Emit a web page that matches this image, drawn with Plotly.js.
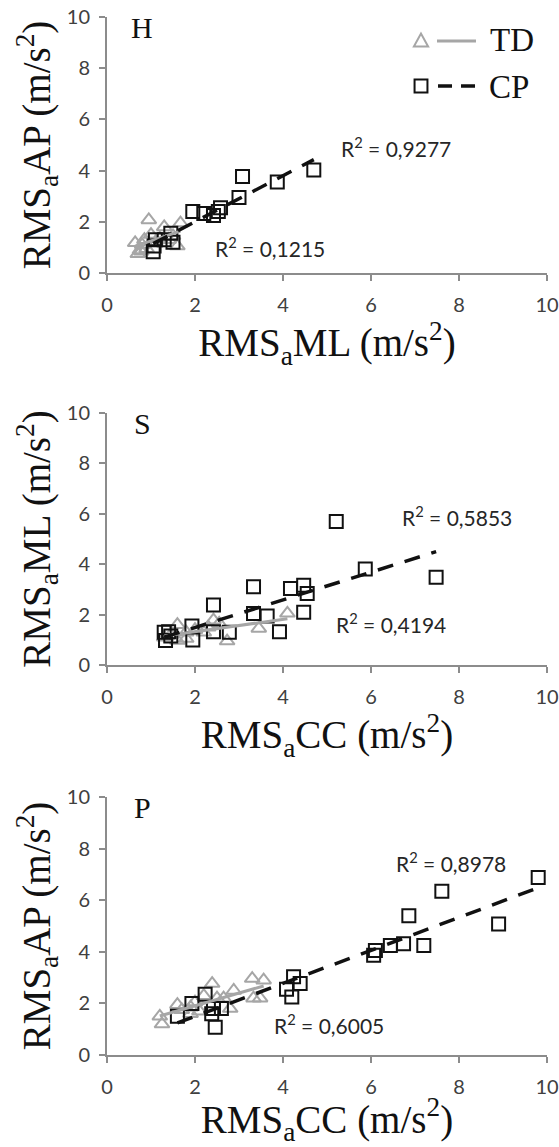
<!DOCTYPE html>
<html>
<head>
<meta charset="utf-8">
<script src="https://cdn.plot.ly/plotly-3.0.1.min.js"></script>
<style>html,body{margin:0;padding:0;background:#fff;}#chart{width:559px;height:1147px;}</style>
</head>
<body>
<div id="chart"></div>
<script>
// ---- Panel H: RMSa ML (x) vs RMSa AP (y)
var H_TD_x = [0.64,0.70,0.75,0.80,0.85,0.90,0.95,1.00,1.10,1.20,1.30,1.40,1.50,1.60,1.67,0.78];
var H_TD_y = [1.18,0.75,0.90,1.10,1.30,0.95,2.07,1.50,1.20,1.35,1.80,1.30,1.45,1.05,1.95,0.85];
var H_CP_x = [1.05,1.07,1.10,1.30,1.45,1.50,1.95,2.20,2.42,2.53,2.58,3.00,3.08,3.87,4.70];
var H_CP_y = [0.83,1.05,1.30,1.30,1.55,1.20,2.40,2.32,2.25,2.40,2.55,2.95,3.77,3.55,4.02];
// ---- Panel S: RMSa CC (x) vs RMSa ML (y)
var S_TD_x = [1.30,1.45,1.60,1.60,1.80,2.00,2.20,2.42,2.55,2.73,3.45,4.10,1.80,2.30];
var S_TD_y = [1.10,1.20,1.60,0.97,1.30,1.40,1.30,1.78,1.65,0.95,1.45,2.05,1.05,1.50];
var S_CP_x = [1.33,1.30,1.45,1.40,1.93,1.95,2.42,2.42,2.78,3.33,3.33,3.64,3.92,4.17,4.47,4.55,4.47,5.21,5.87,7.48];
var S_CP_y = [0.97,1.30,1.15,1.32,1.55,0.99,2.38,1.32,1.30,3.11,2.04,1.95,1.32,3.04,3.17,2.84,2.09,5.69,3.81,3.48];
// ---- Panel P: RMSa CC (x) vs RMSa AP (y)
var P_TD_x = [1.20,1.25,1.60,1.70,1.90,2.00,2.10,2.39,2.50,2.65,2.80,2.88,3.30,3.33,3.48,3.56,1.90,2.20];
var P_TD_y = [1.50,1.20,1.95,1.75,1.85,2.05,1.70,2.77,2.20,2.20,1.80,2.50,2.96,2.20,2.20,2.90,1.60,2.30];
var P_CP_x = [1.60,1.93,2.23,2.38,2.42,2.46,2.60,4.08,4.20,4.24,4.39,6.06,6.10,6.44,6.74,6.86,7.20,7.61,8.90,9.80];
var P_CP_y = [1.50,2.00,2.35,1.60,1.80,1.08,1.80,2.55,2.25,3.03,2.77,3.87,4.05,4.24,4.31,5.40,4.24,6.35,5.08,6.88];
// ---- labels
var panelLetters = ['H','S','P'];
var r2TD = ['R<sup>2</sup> = 0,1215','R<sup>2</sup> = 0,4194','R<sup>2</sup> = 0,6005'];
var r2CP = ['R<sup>2</sup> = 0,9277','R<sup>2</sup> = 0,5853','R<sup>2</sup> = 0,8978'];
var xTitles = ['RMS<sub>a</sub>ML (m/s<sup>2</sup>)','RMS<sub>a</sub>CC (m/s<sup>2</sup>)','RMS<sub>a</sub>CC (m/s<sup>2</sup>)'];
var yTitles = ['RMS<sub>a</sub>AP (m/s<sup>2</sup>)','RMS<sub>a</sub>ML (m/s<sup>2</sup>)','RMS<sub>a</sub>AP (m/s<sup>2</sup>)'];
var tickVals = [0,2,4,6,8,10];
var seriesNames = ['TD','CP'];

function fit(x, y) {
  var n = x.length, sx = 0, sy = 0, sxx = 0, sxy = 0;
  for (var i = 0; i < n; i++) { sx += x[i]; sy += y[i]; sxx += x[i]*x[i]; sxy += x[i]*y[i]; }
  var b = (n*sxy - sx*sy) / (n*sxx - sx*sx);
  var a = (sy - b*sx) / n;
  var xmin = Math.min.apply(null, x), xmax = Math.max.apply(null, x);
  return {x: [xmin, xmax], y: [a + b*xmin, a + b*xmax]};
}

var GRAY = '#a6a6a6';
var panels = [
  {td: [H_TD_x, H_TD_y], cp: [H_CP_x, H_CP_y]},
  {td: [S_TD_x, S_TD_y], cp: [S_CP_x, S_CP_y]},
  {td: [P_TD_x, P_TD_y], cp: [P_CP_x, P_CP_y]}
];
var traces = [];
panels.forEach(function (p, i) {
  var xa = i === 0 ? 'x' : 'x' + (i+1), ya = i === 0 ? 'y' : 'y' + (i+1);
  traces.push({x: p.td[0], y: p.td[1], xaxis: xa, yaxis: ya, type: 'scatter', mode: 'markers', name: seriesNames[0], showlegend: false,
    marker: {symbol: 'triangle-up-open', size: 13, color: GRAY, line: {width: 2, color: GRAY}}});
  traces.push({x: p.cp[0], y: p.cp[1], xaxis: xa, yaxis: ya, type: 'scatter', mode: 'markers', name: seriesNames[1], showlegend: false,
    marker: {symbol: 'square-open', size: 13, color: '#111', line: {width: 2, color: '#111'}}});
  var ft = fit(p.td[0], p.td[1]);
  traces.push({x: ft.x, y: ft.y, xaxis: xa, yaxis: ya, type: 'scatter', mode: 'lines', showlegend: false,
    line: {color: GRAY, width: 3}});
  var fc = fit(p.cp[0], p.cp[1]);
  traces.push({x: fc.x, y: fc.y, xaxis: xa, yaxis: ya, type: 'scatter', mode: 'lines', showlegend: false,
    line: {color: '#111', width: 3.5, dash: '16px,12px'}});
});

var domains = [[0.7534, 1.0], [0.3757, 0.6185], [0.0, 0.2486]];
var tickFont = {family: 'Lato, sans-serif', size: 20, color: '#404040'};
var titleFont = {family: '"Liberation Serif", "Times New Roman", serif', size: 39, color: '#111'};
var layout = {
  width: 559, height: 1147,
  margin: {l: 107, r: 12, t: 17, b: 92},
  paper_bgcolor: '#fff', plot_bgcolor: '#fff',
  showlegend: false,
  annotations: [], shapes: []
};
for (var i = 0; i < 3; i++) {
  var sfx = i === 0 ? '' : String(i+1);
  var axCommon = {range: [0, 10], tickvals: tickVals, ticks: 'outside', ticklen: 6, tickwidth: 2, tickcolor: '#8c8c8c',
    showline: true, linecolor: '#8c8c8c', linewidth: 2, showgrid: false, zeroline: false, tickfont: tickFont, fixedrange: true};
  layout['xaxis' + sfx] = Object.assign({}, axCommon, {domain: [0, 1], anchor: 'y' + sfx, ticklabelstandoff: 7,
    title: {text: xTitles[i], font: titleFont, standoff: 8}});
  layout['yaxis' + sfx] = Object.assign({}, axCommon, {domain: domains[i], anchor: 'x' + sfx, ticklabelstandoff: 5,
    title: {text: yTitles[i], font: titleFont, standoff: 4}});
  var xr = 'x' + sfx + ' domain', yr = 'y' + sfx + ' domain';
  layout.annotations.push({text: panelLetters[i], xref: xr, yref: yr, x: 0.08, y: 0.96, xanchor: 'center', yanchor: 'middle', showarrow: false,
    font: {family: '"Liberation Serif", serif', size: 30, color: '#111'}});
}
var r2Pos = {
  td: [[0.371, 0.10], [0.646, 0.167], [0.505, 0.12]],
  cp: [[0.657, 0.492], [0.796, 0.592], [0.782, 0.748]]
};
var r2Font = {family: 'Lato, sans-serif', size: 21, color: '#262626'};
for (var i = 0; i < 3; i++) {
  var sfx = i === 0 ? '' : String(i+1);
  var xr = 'x' + sfx + ' domain', yr = 'y' + sfx + ' domain';
  layout.annotations.push({text: r2TD[i], xref: xr, yref: yr, x: r2Pos.td[i][0], y: r2Pos.td[i][1], xanchor: 'center', yanchor: 'middle', showarrow: false, font: r2Font});
  layout.annotations.push({text: r2CP[i], xref: xr, yref: yr, x: r2Pos.cp[i][0], y: r2Pos.cp[i][1], xanchor: 'center', yanchor: 'middle', showarrow: false, font: r2Font});
}
// legend (drawn in panel H, paper coordinates)
var legFont = {family: '"Liberation Serif", serif', size: 33, color: '#111'};
layout.annotations.push({text: seriesNames[0], xref: 'paper', yref: 'paper', x: 0.92, y: 0.9775, xanchor: 'center', yanchor: 'middle', showarrow: false, font: legFont});
layout.annotations.push({text: seriesNames[1], xref: 'paper', yref: 'paper', x: 0.913, y: 0.9325, xanchor: 'center', yanchor: 'middle', showarrow: false, font: legFont});
layout.shapes.push({type: 'path', xref: 'paper', yref: 'paper', path: 'M0.6975,0.9716 L0.7298,0.9716 L0.7136,0.9840 Z', line: {color: GRAY, width: 2}});
layout.shapes.push({type: 'line', xref: 'paper', yref: 'paper', x0: 0.75, x1: 0.8386, y0: 0.9769, y1: 0.9769, line: {color: GRAY, width: 3}});
layout.shapes.push({type: 'rect', xref: 'paper', yref: 'paper', x0: 0.699, x1: 0.7283, y0: 0.9272, y1: 0.9398, line: {color: '#111', width: 2}});
layout.shapes.push({type: 'line', xref: 'paper', yref: 'paper', x0: 0.7523, x1: 0.8409, y0: 0.9335, y1: 0.9335, line: {color: '#111', width: 3.5, dash: '14px,9px'}});

Plotly.newPlot('chart', traces, layout, {staticPlot: true, displayModeBar: false});
</script>
</body>
</html>
